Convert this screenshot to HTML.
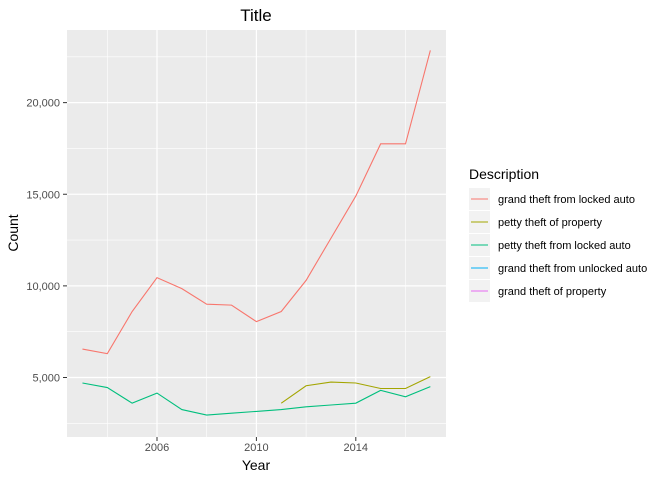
<!DOCTYPE html>
<html><head><meta charset="utf-8"><style>
body{margin:0;background:#fff;}
svg text{font-family:"Liberation Sans",Arial,sans-serif;}
</style></head><body>
<svg id="chart" width="672" height="480" xmlns="http://www.w3.org/2000/svg">
<text x="256" y="21" font-size="17" text-anchor="middle" fill="#000">Title</text>
<rect x="67" y="30" width="379" height="407" fill="#ebebeb"/>
<g id="grid"></g><g id="series"></g><g id="axes"></g>
<text x="256" y="470" font-size="14" text-anchor="middle">Year</text>
<text x="18" y="233" font-size="14" text-anchor="middle" transform="rotate(-90 18 233)">Count</text>
<g id="legend">
<text x="469" y="179" font-size="14">Description</text>
</g>
</svg>
<script>
const years=[2003,2004,2005,2006,2007,2008,2009,2010,2011,2012,2013,2014,2015,2016,2017];
const grandLocked=[6550,6300,8600,10450,9850,9000,8950,8050,8600,10300,12600,14900,17750,17750,22850];
const pettyPropYears=[2011,2012,2013,2014,2015,2016,2017];
const pettyProp=[3600,4550,4750,4700,4400,4400,5050];
const pettyLocked=[4700,4450,3600,4150,3250,2950,3050,3150,3250,3400,3500,3600,4300,3950,4500];
const xTicks=[2006,2010,2014];
const xMinor=[2004,2008,2012,2016];
const yTicks=[5000,10000,15000,20000];
const yMinor=[2500,7500,12500,17500,22500];
const legendLabels=["grand theft from locked auto","petty theft of property","petty theft from locked auto","grand theft from unlocked auto","grand theft of property"];
const legendColors=["#F8766D","#A3A500","#00BF7D","#00B0F6","#E76BF3"];
const X=v=>157+(v-2006)*24.85;
const Y=v=>377.5-(v-5000)*0.018325;
const NS="http://www.w3.org/2000/svg";
function mk(t,a,p){const e=document.createElementNS(NS,t);for(const k in a)e.setAttribute(k,a[k]);p.appendChild(e);return e;}
const grid=document.getElementById('grid'),axes=document.getElementById('axes'),ser=document.getElementById('series'),leg=document.getElementById('legend');
yMinor.forEach(v=>{const l=mk('line',{x1:67,x2:446,y1:Y(v),y2:Y(v),stroke:'#fff','stroke-width':0.6},grid);

});
xMinor.forEach(v=>{const l=mk('line',{x1:X(v),x2:X(v),y1:30,y2:437,stroke:'#fff','stroke-width':0.6},grid);

});
yTicks.forEach(v=>{const l=mk('line',{x1:67,x2:446,y1:Y(v),y2:Y(v),stroke:'#fff','stroke-width':1.2},grid);


const t=mk('text',{x:60,y:Y(v)+4,'font-size':11,'text-anchor':'end',fill:'#4d4d4d'},axes);t.textContent=v.toLocaleString('en-US');


mk('line',{x1:63,x2:67,y1:Y(v),y2:Y(v),stroke:'#333'},axes);});
xTicks.forEach(v=>{const l=mk('line',{x1:X(v),x2:X(v),y1:30,y2:437,stroke:'#fff','stroke-width':1.2},grid);


const t=mk('text',{x:X(v),y:451,'font-size':11,'text-anchor':'middle',fill:'#4d4d4d'},axes);t.textContent=v;


mk('line',{x1:X(v),x2:X(v),y1:437,y2:441,stroke:'#333'},axes);});
function line(xs,ys,c,n){const p=mk('polyline',{points:xs.map((x,i)=>X(x)+','+Y(ys[i])).join(' '),fill:'none',stroke:c,'stroke-width':1.1},ser);

}
line(years,grandLocked,legendColors[0],'grand-theft-locked-auto-line');
line(pettyPropYears,pettyProp,legendColors[1],'petty-theft-property-line');
line(years,pettyLocked,legendColors[2],'petty-theft-locked-auto-line');
legendLabels.forEach((s,i)=>{const cy=199+i*23;
const g=mk('g',{},leg);


mk('rect',{x:469,y:cy-11,width:21,height:22,fill:'#f2f2f2'},g);
mk('line',{x1:471,x2:488,y1:cy,y2:cy,stroke:legendColors[i],'stroke-width':1.1},g);
const t=mk('text',{x:498,y:cy+4,'font-size':11,fill:'#000'},g);t.textContent=s;});
</script>
</body></html>
